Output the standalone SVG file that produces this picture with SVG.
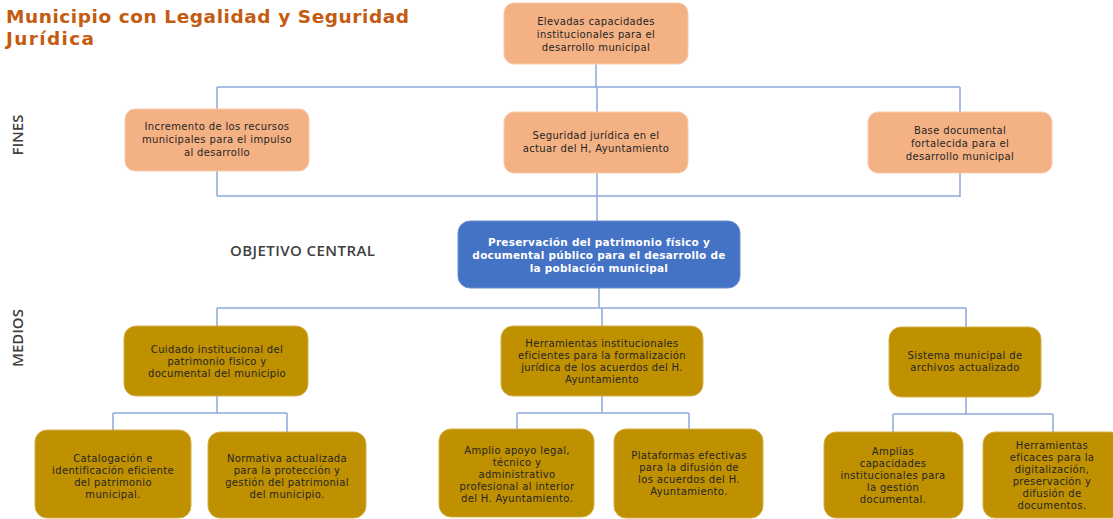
<svg xmlns="http://www.w3.org/2000/svg" width="1113" height="519" viewBox="0 0 1113 519">
<style>
.t{font-family:"DejaVu Sans","Liberation Sans",sans-serif;font-size:10px;letter-spacing:0.35px;fill:#262626;text-anchor:middle}
.c{font-family:"DejaVu Sans","Liberation Sans",sans-serif;font-size:10.5px;letter-spacing:0.25px;font-weight:bold;fill:#ffffff;text-anchor:middle}
.fin{fill:#F4B183;stroke:#F8CBAD;stroke-width:1}
.med{fill:#BF9000;stroke:#D4B04A;stroke-width:1}
.cen{fill:#4472C4;stroke:#6D8FD0;stroke-width:1}
.lbl{font-family:"Open Sans","Liberation Sans",sans-serif;font-size:15px;font-weight:600;fill:#404040}
.ttl{font-family:"DejaVu Sans","Liberation Sans",sans-serif;font-size:18.5px;font-weight:bold;fill:#C55A11}
#connectors path{fill:none;stroke:#8EA9DB;stroke-width:1.5}
</style>
<rect width="1113" height="519" fill="#ffffff"/>
<g id="title">
<text class="ttl" x="6" y="23" textLength="403" lengthAdjust="spacing">Municipio con Legalidad y Seguridad</text>
<text class="ttl" x="6" y="45" textLength="88" lengthAdjust="spacing">Jurídica</text>
</g>
<g id="labels">
<text class="lbl" transform="translate(23,135) rotate(-90)" text-anchor="middle">FINES</text>
<text class="lbl" transform="translate(23,338) rotate(-90)" text-anchor="middle">MEDIOS</text>
<text class="lbl" x="230" y="256" textLength="145" lengthAdjust="spacing">OBJETIVO CENTRAL</text>
</g>
<g id="connectors">
<path d="M596,64 V87"/>
<path d="M217,87 H960 M217,87 V196 M960,87 V197 M217,196 H960 M597,87 V221"/>
<path d="M599,288 V308 M217,308 H966 M217,308 V326 M602,308 V326 M966,308 V327"/>
<path d="M217,396 V413 M113,413 H287 M113,413 V430 M287,413 V432"/>
<path d="M602,396 V413 M517,413 H689 M517,413 V429 M689,413 V429"/>
<path d="M966,397 V414 M893,414 H1053 M893,414 V432 M1053,414 V432"/>
</g>
<g id="n-top">
<rect class="fin" x="504" y="3" width="184" height="61" rx="10"/>
<text class="t" x="596" y="25">Elevadas capacidades</text>
<text class="t" x="596" y="38">institucionales para el</text>
<text class="t" x="596" y="51">desarrollo municipal</text>
</g>
<g id="n-fin1">
<rect class="fin" x="125" y="109" width="184" height="62" rx="10"/>
<text class="t" x="217" y="130">Incremento de los recursos</text>
<text class="t" x="217" y="143">municipales para el impulso</text>
<text class="t" x="217" y="156">al desarrollo</text>
</g>
<g id="n-fin2">
<rect class="fin" x="504" y="112" width="184" height="61" rx="10"/>
<text class="t" x="596" y="139">Seguridad jurídica en el</text>
<text class="t" x="596" y="152">actuar del H, Ayuntamiento</text>
</g>
<g id="n-fin3">
<rect class="fin" x="868" y="112" width="184" height="61" rx="10"/>
<text class="t" x="960" y="134">Base documental</text>
<text class="t" x="960" y="147">fortalecida para el</text>
<text class="t" x="960" y="160">desarrollo municipal</text>
</g>
<g id="n-central">
<rect class="cen" x="458" y="221" width="282" height="67" rx="12"/>
<text class="c" x="599" y="246">Preservación del patrimonio físico y</text>
<text class="c" x="599" y="259">documental público para el desarrollo de</text>
<text class="c" x="599" y="272">la población municipal</text>
</g>
<g id="n-med1">
<rect class="med" x="124" y="326" width="184" height="70" rx="12"/>
<text class="t" x="217" y="353">Cuidado institucional del</text>
<text class="t" x="217" y="365">patrimonio fisico y</text>
<text class="t" x="217" y="377">documental del municipio</text>
</g>
<g id="n-med2">
<rect class="med" x="501" y="326" width="202" height="70" rx="12"/>
<text class="t" x="602" y="347">Herramientas institucionales</text>
<text class="t" x="602" y="359">eficientes para la formalización</text>
<text class="t" x="602" y="371">jurídica de los acuerdos del H.</text>
<text class="t" x="602" y="383">Ayuntamiento</text>
</g>
<g id="n-med3">
<rect class="med" x="889" y="327" width="152" height="70" rx="12"/>
<text class="t" x="965" y="359">Sistema municipal de</text>
<text class="t" x="965" y="371">archivos actualizado</text>
</g>
<g id="n-b1">
<rect class="med" x="35" y="430" width="156" height="88" rx="12"/>
<text class="t" x="113" y="462">Catalogación e</text>
<text class="t" x="113" y="474">identificación eficiente</text>
<text class="t" x="113" y="486">del patrimonio</text>
<text class="t" x="113" y="498">municipal.</text>
</g>
<g id="n-b2">
<rect class="med" x="208" y="432" width="158" height="86" rx="12"/>
<text class="t" x="287" y="462">Normativa actualizada</text>
<text class="t" x="287" y="474">para la protección y</text>
<text class="t" x="287" y="486">gestión del patrimonial</text>
<text class="t" x="287" y="498">del municipio.</text>
</g>
<g id="n-b3">
<rect class="med" x="439" y="429" width="155" height="88" rx="12"/>
<text class="t" x="517" y="454">Amplio apoyo legal,</text>
<text class="t" x="517" y="466">técnico y</text>
<text class="t" x="517" y="478">administrativo</text>
<text class="t" x="517" y="490">profesional al interior</text>
<text class="t" x="517" y="502">del H. Ayuntamiento.</text>
</g>
<g id="n-b4">
<rect class="med" x="614" y="429" width="149" height="89" rx="12"/>
<text class="t" x="689" y="459">Plataformas efectivas</text>
<text class="t" x="689" y="471">para la difusión de</text>
<text class="t" x="689" y="483">los acuerdos del H.</text>
<text class="t" x="689" y="495">Ayuntamiento.</text>
</g>
<g id="n-b5">
<rect class="med" x="824" y="432" width="139" height="86" rx="12"/>
<text class="t" x="893" y="455">Amplias</text>
<text class="t" x="893" y="467">capacidades</text>
<text class="t" x="893" y="479">institucionales para</text>
<text class="t" x="893" y="491">la gestión</text>
<text class="t" x="893" y="503">documental.</text>
</g>
<g id="n-b6">
<rect class="med" x="983" y="432" width="140" height="86" rx="12"/>
<text class="t" x="1052" y="449">Herramientas</text>
<text class="t" x="1052" y="461">eficaces para la</text>
<text class="t" x="1052" y="473">digitalización,</text>
<text class="t" x="1052" y="485">preservación y</text>
<text class="t" x="1052" y="497">difusión de</text>
<text class="t" x="1052" y="509">documentos.</text>
</g>
</svg>
